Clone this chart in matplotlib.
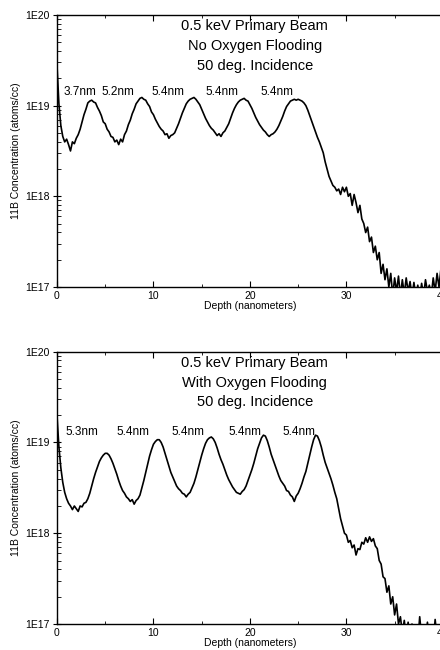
import numpy as np
import matplotlib.pyplot as plt
from matplotlib.ticker import LogLocator, FuncFormatter, MultipleLocator

plt.rcParams['font.family'] = ['Liberation Sans', 'DejaVu Sans']

# 深度采样 (nm), 每 0.2 nm 一个点
depth = np.round(np.arange(0, 40.01, 0.2), 1)

# 上图: 无氧气注入, log10(浓度 atoms/cc)
log_no_o2 = [
    19.45, 19.02, 18.78, 18.66, 18.60, 18.63, 18.57, 18.50, 18.60, 18.58,
    18.64, 18.68, 18.74, 18.82, 18.90, 18.96, 19.03, 19.05, 19.06, 19.04,
    19.03, 18.98, 18.94, 18.89, 18.82, 18.80, 18.74, 18.71, 18.66, 18.65,
    18.60, 18.62, 18.57, 18.63, 18.60, 18.68, 18.72, 18.79, 18.84, 18.91,
    18.96, 19.02, 19.05, 19.08, 19.09, 19.07, 19.06, 19.02, 18.99, 18.93,
    18.90, 18.85, 18.81, 18.77, 18.74, 18.72, 18.68, 18.69, 18.64, 18.67,
    18.68, 18.70, 18.75, 18.80, 18.86, 18.92, 18.97, 19.02, 19.05, 19.07,
    19.08, 19.09, 19.07, 19.04, 19.01, 18.96, 18.91, 18.86, 18.82, 18.78,
    18.75, 18.73, 18.70, 18.67, 18.69, 18.66, 18.70, 18.72, 18.76, 18.80,
    18.86, 18.92, 18.97, 19.01, 19.04, 19.06, 19.07, 19.08, 19.06, 19.05,
    19.01, 18.97, 18.92, 18.87, 18.83, 18.79, 18.76, 18.73, 18.71, 18.68,
    18.66, 18.68, 18.69, 18.71, 18.74, 18.78, 18.83, 18.88, 18.94, 18.99,
    19.02, 19.05, 19.06, 19.07, 19.06, 19.07, 19.06, 19.05, 19.03, 19.00,
    18.95, 18.89, 18.83, 18.77, 18.71, 18.65, 18.60, 18.54, 18.48, 18.38,
    18.30, 18.22, 18.17, 18.12, 18.10, 18.06, 18.08, 18.02, 18.10, 18.05,
    18.10, 18.00, 18.03, 17.90, 18.02, 17.93, 17.82, 17.90, 17.75, 17.70,
    17.60, 17.66, 17.50, 17.55, 17.38, 17.45, 17.30, 17.38, 17.15, 17.25,
    17.08, 17.20, 17.00, 17.15, 16.90, 17.10, 16.95, 17.12, 16.90, 17.08,
    16.92, 17.10, 16.95, 17.06, 16.90, 17.05, 16.90, 17.02, 16.88, 17.04,
    16.90, 17.08, 16.95, 17.02, 16.90, 17.10, 16.95, 17.15, 17.00, 17.20,
    17.05,
]

# 下图: 有氧气注入
log_with_o2 = [
    19.30, 18.95, 18.72, 18.56, 18.45, 18.38, 18.33, 18.30, 18.26, 18.30,
    18.27, 18.24, 18.30, 18.29, 18.33, 18.34, 18.38, 18.44, 18.52, 18.60,
    18.67, 18.73, 18.79, 18.83, 18.86, 18.88, 18.88, 18.86, 18.82, 18.77,
    18.71, 18.65, 18.58, 18.52, 18.47, 18.44, 18.40, 18.38, 18.35, 18.37,
    18.32, 18.36, 18.38, 18.42, 18.50, 18.58, 18.67, 18.76, 18.85, 18.92,
    18.98, 19.01, 19.03, 19.03, 19.00, 18.95, 18.88, 18.81, 18.74, 18.67,
    18.62, 18.57, 18.52, 18.49, 18.47, 18.44, 18.43, 18.40, 18.43, 18.45,
    18.50, 18.55, 18.62, 18.70, 18.78, 18.86, 18.93, 18.99, 19.03, 19.05,
    19.06, 19.04, 19.00, 18.94, 18.87, 18.81, 18.76, 18.70, 18.64, 18.59,
    18.55, 18.51, 18.48, 18.45, 18.44, 18.43, 18.46, 18.48, 18.52, 18.58,
    18.64, 18.70, 18.77, 18.85, 18.93, 18.99, 19.05, 19.08, 19.07, 19.02,
    18.95, 18.87, 18.81, 18.75, 18.69, 18.63, 18.58, 18.55, 18.52, 18.47,
    18.46, 18.42, 18.40, 18.35, 18.41, 18.44, 18.49, 18.55, 18.62, 18.68,
    18.77, 18.86, 18.95, 19.03, 19.08, 19.07, 19.02, 18.95, 18.86, 18.78,
    18.72, 18.66, 18.60, 18.53, 18.45, 18.38, 18.27, 18.16, 18.08, 18.00,
    17.98, 17.90, 17.92, 17.84, 17.87, 17.76, 17.83, 17.82, 17.90, 17.88,
    17.95, 17.90, 17.96, 17.91, 17.94, 17.86, 17.83, 17.70, 17.66, 17.52,
    17.50, 17.35, 17.42, 17.22, 17.30, 17.10, 17.22, 17.00, 17.08, 16.90,
    17.04, 16.85, 17.02, 16.80, 17.00, 16.85, 16.90, 16.80, 17.08, 16.85,
    16.95, 16.80, 17.02, 16.80, 16.90, 16.80, 17.05, 16.85, 16.90, 16.80,
    16.95,
]

titles = [
    ["0.5 keV Primary Beam", "No Oxygen Flooding", "50 deg. Incidence"],
    ["0.5 keV Primary Beam", "With Oxygen Flooding", "50 deg. Incidence"],
]
period_labels = [
    ["3.7nm", "5.2nm", "5.4nm", "5.4nm", "5.4nm"],
    ["5.3nm", "5.4nm", "5.4nm", "5.4nm", "5.4nm"],
]
period_x = [
    [2.4, 6.35, 11.5, 17.1, 22.8],
    [2.55, 7.9, 13.6, 19.5, 25.1],
]

fig = plt.figure(figsize=(4.4, 6.5), dpi=100)
ax_top = fig.add_axes([0.1295, 0.5585, 0.877, 0.4185])
ax_bot = fig.add_axes([0.1295, 0.040, 0.877, 0.419])

fmt = FuncFormatter(lambda v, p: f"1E{int(round(np.log10(v)))}")

for i, (ax, logc) in enumerate([(ax_top, log_no_o2), (ax_bot, log_with_o2)]):
    conc = 10 ** np.array(logc)
    ax.plot(depth, conc, color='black', lw=1.2)
    ax.set_yscale('log')
    ax.set_xlim(0, 40)
    ax.set_ylim(1e17, 1e20)

    ax.xaxis.set_major_locator(MultipleLocator(10))
    ax.xaxis.set_minor_locator(MultipleLocator(5))
    ax.yaxis.set_major_locator(LogLocator(base=10))
    ax.yaxis.set_minor_locator(LogLocator(base=10, subs=np.arange(2, 10)))
    ax.yaxis.set_major_formatter(fmt)
    ax.yaxis.set_minor_formatter(FuncFormatter(lambda v, p: ""))
    ax.tick_params(axis='x', which='major', direction='in', length=4,
                   top=True, labelsize=7.5, pad=3)
    ax.tick_params(axis='x', which='minor', direction='in', length=2.5, top=True)
    ax.tick_params(axis='y', which='major', direction='inout', length=6,
                   labelsize=7.5, pad=2)
    ax.tick_params(axis='y', which='minor', direction='in', length=3)
    for s in ax.spines.values():
        s.set_linewidth(1.0)

    ax.set_xlabel("Depth (nanometers)", fontsize=7.5, labelpad=0)
    ax.set_ylabel("11B Concentration (atoms/cc)", fontsize=7.5, labelpad=3)

    for ty, line in zip([19.88, 19.66, 19.44], titles[i]):
        ax.text(20.5, 10 ** ty, line, ha='center', va='center', fontsize=10.5)
    ly = 19.15 if i == 0 else 19.11
    for lx, lab in zip(period_x[i], period_labels[i]):
        ax.text(lx, 10 ** ly, lab, ha='center', va='center', fontsize=8.5)

fig.savefig('out.png', dpi=100)
